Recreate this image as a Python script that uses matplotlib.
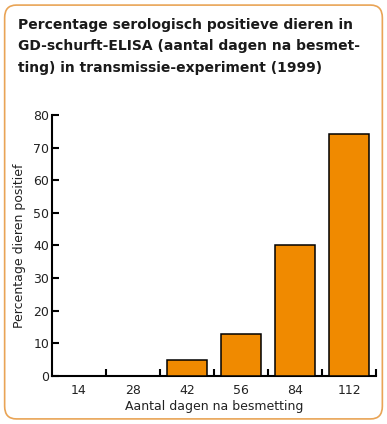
import matplotlib
matplotlib.use("Agg")
import matplotlib.pyplot as plt
from matplotlib.patches import FancyBboxPatch
import numpy as np

categories = ["14", "28", "42", "56", "84", "112"]
values = [0, 0, 5, 13, 40, 74]
yticks = [0, 10, 20, 30, 40, 50, 60, 70, 80]

title = "Percentage serologisch positieve dieren in\nGD-schurft-ELISA (aantal dagen na besmet-\nting) in transmissie-experiment (1999)"

fig = plt.figure(figsize=(3.87, 4.24), dpi=100)
frame = FancyBboxPatch((0.012, 0.012), 0.976, 0.976, boxstyle="round,pad=0,rounding_size=0.03",
                       transform=fig.transFigure, facecolor="none", edgecolor="#E9A456",
                       linewidth=1.2, zorder=-1)
fig.patches.append(frame)

fig.text(0.047, 0.957, title, ha="left", va="top", fontsize=10, fontweight="bold",
         color="#1a1a1a", linespacing=1.65)

ax = fig.add_axes([0.134, 0.113, 0.838, 0.616])
ax.patch.set_alpha(0)
x = np.arange(len(categories))
ax.bar(x, values, width=0.75, color="#F08A00", edgecolor="black", linewidth=1.1, zorder=3)
ax.set_xlim(-0.5, len(categories) - 0.5)
ax.set_ylim(0, 80)
ax.set_yticks(yticks)
ax.set_xticks(x)
ax.set_xticklabels(categories)
ax.tick_params(axis="x", length=0, labelsize=9, pad=6, labelcolor="#222222")
ax.set_xticks(np.arange(0.5, len(categories)), minor=True)
ax.tick_params(axis="x", which="minor", direction="in", length=5, width=1.5)
ax.tick_params(axis="y", direction="in", length=5, width=1.5, labelsize=9, pad=2, labelcolor="#222222")
for s in ["top", "right"]:
    ax.spines[s].set_visible(False)
for s in ["left", "bottom"]:
    ax.spines[s].set_linewidth(1.5)
ax.set_ylabel("Percentage dieren positief", fontsize=9, labelpad=5, color="#222222")
ax.set_xlabel("Aantal dagen na besmetting", fontsize=9, labelpad=2, color="#222222")

fig.savefig("out.png", dpi=100)
